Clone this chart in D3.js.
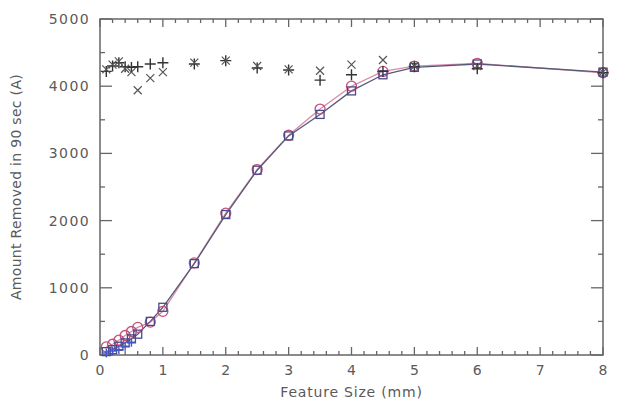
<!DOCTYPE html>
<html>
<head>
<meta charset="utf-8">
<script src="https://cdn.jsdelivr.net/npm/d3@7"></script>
<style>
  body { margin: 0; background: #fff; }
  text { font-family: "DejaVu Sans", sans-serif; fill: #5a5a5a; }
</style>
</head>
<body>
<svg id="chart" width="634" height="405"></svg>
<script>
// feature sizes (mm)
const sizes = [0.1, 0.2, 0.3, 0.4, 0.5, 0.6, 0.8, 1.0, 1.5, 2, 2.5, 3, 3.5, 4, 4.5, 5, 6, 8];

// amount removed, per series
const circleVals = [120, 160, 220, 290, 350, 410, 490, 650, 1370, 2110, 2760, 3270, 3660, 4000, 4220, 4300, 4340, 4200];
const squareVals = [50, 80, 130, 180, 240, 310, 500, 710, 1360, 2090, 2750, 3260, 3580, 3930, 4170, 4280, 4330, 4210];
const plusVals = [4220, 4300, 4350, 4290, 4280, 4290, 4330, 4350, 4330, 4380, 4270, 4240, 4090, 4170, 4220, 4290, 4260, 4200];
const crossVals = [4250, 4320, 4370, 4260, 4210, 3940, 4120, 4210, 4350, 4380, 4300, 4250, 4230, 4320, 4390, 4300, 4300, 4210];
const lowPlusSizes = [0.1, 0.2, 0.3, 0.4, 0.5];
const lowPlusVals = [30, 60, 80, 130, 190];

const xTicks = [0, 1, 2, 3, 4, 5, 6, 7, 8];
const yTicks = [0, 1000, 2000, 3000, 4000, 5000];

const svg = d3.select('#chart');
const margin = { top: 19, right: 31, bottom: 50, left: 100 };
const width = 634 - margin.left - margin.right;
const height = 405 - margin.top - margin.bottom;

const x = d3.scaleLinear().domain([0, 8]).range([0, width]);
const y = d3.scaleLinear().domain([0, 5000]).range([height, 0]);

const g = svg.append('g').attr('transform', `translate(${margin.left},${margin.top})`);

const axisColor = '#666';

// frame
g.append('rect')
  .attr('width', width).attr('height', height)
  .attr('fill', 'none').attr('stroke', axisColor).attr('stroke-width', 1.5);

// x ticks (bottom + top, inward)
const xMinor = d3.range(0, 8.001, 0.2);
g.selectAll('.xt')
  .data(xMinor)
  .enter().append('g')
  .each(function (d) {
    const major = Math.abs(d - Math.round(d)) < 1e-6;
    const len = major ? 8 : 4;
    const sel = d3.select(this);
    sel.append('line').attr('x1', x(d)).attr('x2', x(d)).attr('y1', height).attr('y2', height - len)
      .attr('stroke', axisColor).attr('stroke-width', 1.3);
    sel.append('line').attr('x1', x(d)).attr('x2', x(d)).attr('y1', 0).attr('y2', len)
      .attr('stroke', axisColor).attr('stroke-width', 1.3);
  });

// y ticks (left + right, inward)
const yMinor = d3.range(0, 5001, 500);
g.selectAll('.yt')
  .data(yMinor)
  .enter().append('g')
  .each(function (d) {
    const len = d % 1000 === 0 ? 12 : 5;
    const sel = d3.select(this);
    sel.append('line').attr('x1', 0).attr('x2', len).attr('y1', y(d)).attr('y2', y(d))
      .attr('stroke', axisColor).attr('stroke-width', 1.3);
    sel.append('line').attr('x1', width).attr('x2', width - len).attr('y1', y(d)).attr('y2', y(d))
      .attr('stroke', axisColor).attr('stroke-width', 1.3);
  });

// tick labels
g.selectAll('.xl')
  .data(xTicks)
  .enter().append('text')
  .attr('x', d => x(d)).attr('y', height + 20)
  .attr('text-anchor', 'middle')
  .style('font-size', '14px')
  .text(d => d);

g.selectAll('.yl')
  .data(yTicks)
  .enter().append('text')
  .attr('x', -10).attr('y', d => y(d) + 5)
  .attr('text-anchor', 'end')
  .style('font-size', '14px')
  .style('letter-spacing', '1.4px')
  .text(d => d);

// axis titles
g.append('text')
  .attr('x', width / 2).attr('y', height + 42)
  .attr('text-anchor', 'middle')
  .style('font-size', '14px')
  .style('letter-spacing', '0.8px')
  .text('Feature Size (mm)');

g.append('text')
  .attr('transform', `translate(-79,${height / 2}) rotate(-90)`)
  .attr('text-anchor', 'middle')
  .style('font-size', '14px')
  .style('letter-spacing', '0.3px')
  .text('Amount Removed in 90 sec (A)');

const pts = vals => sizes.map((s, i) => [s, vals[i]]);
const line = d3.line().x(d => x(d[0])).y(d => y(d[1]));

// lines
g.append('path').datum(pts(circleVals))
  .attr('d', line).attr('fill', 'none').attr('stroke', '#d88aa8').attr('stroke-width', 1.3);
g.append('path').datum(pts(squareVals))
  .attr('d', line).attr('fill', 'none').attr('stroke', '#555a78').attr('stroke-width', 1.3);

// circles
g.selectAll('.circ')
  .data(pts(circleVals))
  .enter().append('circle')
  .attr('cx', d => x(d[0])).attr('cy', d => y(d[1])).attr('r', 5)
  .attr('fill', 'none').attr('stroke', '#c0507a').attr('stroke-width', 1.3);

// squares
g.selectAll('.sq')
  .data(pts(squareVals))
  .enter().append('rect')
  .attr('x', d => x(d[0]) - 4).attr('y', d => y(d[1]) - 4)
  .attr('width', 8).attr('height', 8)
  .attr('fill', 'none').attr('stroke', '#4a4a8a').attr('stroke-width', 1.3);

// plus markers
const drawPlus = (data, color, r) => {
  g.selectAll(null)
    .data(data)
    .enter().append('path')
    .attr('d', d => `M${x(d[0]) - r},${y(d[1])}H${x(d[0]) + r}M${x(d[0])},${y(d[1]) - r}V${y(d[1]) + r}`)
    .attr('stroke', color).attr('stroke-width', 1.4).attr('fill', 'none');
};
drawPlus(pts(plusVals), '#333', 5.5);
drawPlus(lowPlusSizes.map((s, i) => [s, lowPlusVals[i]]), '#4455cc', 4.5);

// x markers
g.selectAll('.cross')
  .data(pts(crossVals))
  .enter().append('path')
  .attr('d', d => {
    const cx = x(d[0]), cy = y(d[1]), r = 4;
    return `M${cx - r},${cy - r}L${cx + r},${cy + r}M${cx - r},${cy + r}L${cx + r},${cy - r}`;
  })
  .attr('stroke', '#555').attr('stroke-width', 1.2).attr('fill', 'none');
</script>
</body>
</html>
